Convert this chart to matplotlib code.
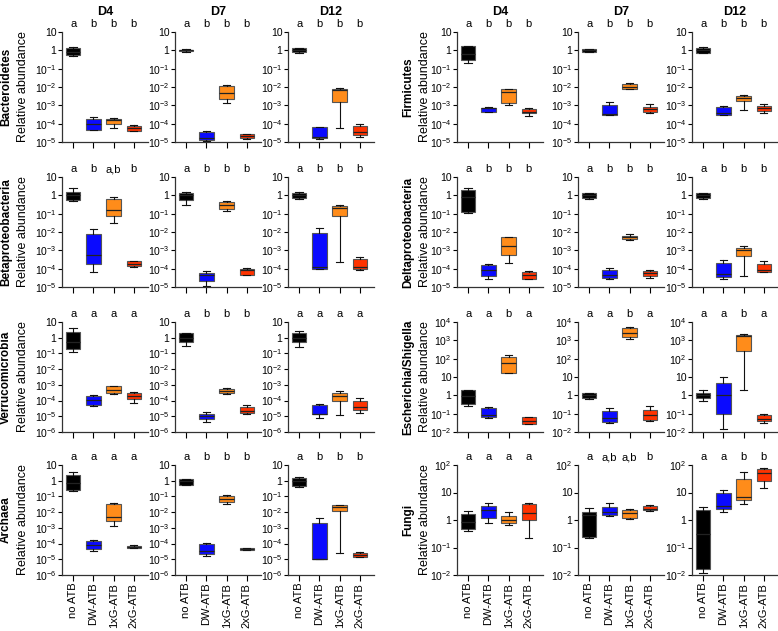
import matplotlib
matplotlib.use('Agg')
import matplotlib.pyplot as plt
from matplotlib.ticker import FixedLocator, NullLocator

plt.rcParams['font.family'] = ['Liberation Sans', 'DejaVu Sans']
plt.rcParams['mathtext.default'] = 'regular'

groups = ['no ATB', 'DW-ATB', '1xG-ATB', '2xG-ATB']
days = ['D4', 'D7', 'D12']
colors = ['#000000', '#0a0aff', '#ff8c1a', '#ff3300']

# box stats per group: (low whisker, Q1, median, Q3, high whisker); one list per day D4, D7, D12
bacteroidetes = [
    [(0.5, 0.55, 0.85, 1.4, 1.6), (4.5e-5, 4.8e-5, 9.5e-5, 1.9e-4, 2.2e-4),
     (6e-5, 9.5e-5, 1.6e-4, 1.9e-4, 2.0e-4), (4e-5, 4.2e-5, 5.5e-5, 7.5e-5, 8e-5)],
    [(0.85, 0.9, 1.0, 1.1, 1.15), (1.2e-5, 1.3e-5, 1.6e-5, 3.3e-5, 4e-5),
     (1.3e-3, 2.1e-3, 5e-3, 1.15e-2, 1.3e-2), (1.5e-5, 1.6e-5, 2.1e-5, 2.7e-5, 2.8e-5)],
    [(0.7, 0.78, 1.0, 1.3, 1.35), (1.5e-5, 1.7e-5, 1.9e-5, 6.8e-5, 7e-5),
     (5.5e-5, 1.6e-3, 7e-3, 7.6e-3, 8.5e-3), (1.8e-5, 2.3e-5, 3.3e-5, 7.5e-5, 1.0e-4)],
]
firmicutes = [
    [(0.21, 0.28, 0.65, 1.7, 1.75), (4.2e-4, 4.4e-4, 7e-4, 7.6e-4, 8e-4),
     (1.05e-3, 1.4e-3, 5.1e-3, 7.8e-3, 8e-3), (2.6e-4, 3.7e-4, 4.6e-4, 6e-4, 6.8e-4)],
    [(0.82, 0.85, 1.0, 1.2, 1.25), (3e-4, 3e-4, 3.3e-4, 1e-3, 1.5e-3),
     (7.5e-3, 7.8e-3, 1e-2, 1.4e-2, 1.65e-2), (3.9e-4, 4.3e-4, 6.3e-4, 8.6e-4, 1.2e-3)],
    [(0.68, 0.7, 1.0, 1.4, 1.45), (2.8e-4, 3e-4, 3.6e-4, 7.8e-4, 8.8e-4),
     (5.7e-4, 1.7e-3, 2.6e-3, 3.2e-3, 3.7e-3), (3.8e-4, 4.7e-4, 6.8e-4, 9e-4, 1.2e-3)],
]
betaproteobacteria = [
    [(0.47, 0.58, 1.1, 1.5, 2.5), (6.6e-5, 1.9e-4, 5.3e-4, 8e-3, 1.4e-2),
     (0.032, 0.074, 0.15, 0.66, 0.85), (1.3e-4, 1.35e-4, 1.9e-4, 2.5e-4, 2.6e-4)],
    [(0.31, 0.58, 1.0, 1.4, 1.45), (1.2e-5, 2.1e-5, 4.6e-5, 5.8e-5, 7.5e-5),
     (0.14, 0.19, 0.28, 0.43, 0.5), (4.4e-5, 4.6e-5, 8e-5, 1e-4, 1.05e-4)],
    [(0.6, 0.75, 1.0, 1.4, 1.5), (9.5e-5, 1e-4, 1.2e-4, 8.9e-3, 1.66e-2),
     (2.3e-4, 0.074, 0.2, 0.25, 0.28), (8e-5, 1e-4, 1.2e-4, 3.2e-4, 4.5e-4)],
]
deltaproteobacteria = [
    [(0.11, 0.12, 0.8, 1.9, 2.6), (2.6e-5, 3.8e-5, 8.6e-5, 1.6e-4, 1.7e-4),
     (2e-4, 5.5e-4, 1.7e-3, 5.2e-3, 5.3e-3), (2.8e-5, 2.9e-5, 4.5e-5, 6.5e-5, 7.5e-5)],
    [(0.6, 0.73, 1.0, 1.3, 1.35), (2.6e-5, 3.2e-5, 4.4e-5, 9e-5, 1.1e-4),
     (3.5e-3, 4.2e-3, 5.2e-3, 6.4e-3, 7.7e-3), (3.2e-5, 4e-5, 6e-5, 7.5e-5, 8.6e-5)],
    [(0.6, 0.75, 1.0, 1.35, 1.4), (2.8e-5, 3.5e-5, 5e-5, 2e-4, 3.1e-4),
     (4.2e-5, 4.7e-4, 1e-3, 1.35e-3, 1.7e-3), (6.3e-5, 6.7e-5, 8.6e-5, 1.8e-4, 2.6e-4)],
]
verrucomicrobia = [
    [(0.13, 0.19, 0.55, 2.2, 4.0), (4.4e-5, 5.4e-5, 1.1e-4, 2.1e-4, 2.3e-4),
     (2.8e-4, 3e-4, 5e-4, 8.1e-4, 9e-4), (7.2e-5, 1.3e-4, 2e-4, 3e-4, 3.3e-4)],
    [(0.29, 0.5, 1.0, 1.9, 2.0), (4.5e-6, 7e-6, 1e-5, 1.5e-5, 2e-5),
     (2.6e-4, 3e-4, 4e-4, 5.5e-4, 6.5e-4), (1.3e-5, 1.6e-5, 2.2e-5, 4e-5, 5e-5)],
    [(0.25, 0.5, 1.0, 2.0, 2.5), (8e-6, 1.3e-5, 1.5e-5, 5e-5, 6e-5),
     (1.2e-5, 1e-4, 2e-4, 3e-4, 4e-4), (1.6e-5, 2.5e-5, 4e-5, 1e-4, 1.5e-4)],
]
escherichia = [
    [(0.26, 0.32, 0.9, 1.9, 2.0), (0.055, 0.065, 0.09, 0.2, 0.23),
     (17, 17.5, 55, 118, 150), (0.028, 0.029, 0.04, 0.064, 0.065)],
    [(0.6, 0.7, 1.0, 1.3, 1.4), (0.03, 0.035, 0.06, 0.14, 0.2),
     (1250, 1500, 2500, 4700, 5600), (0.04, 0.045, 0.08, 0.16, 0.25)],
    [(0.5, 0.7, 1.0, 1.3, 2.0), (0.015, 0.1, 1.0, 5, 10),
     (2, 250, 1800, 2000, 2200), (0.03, 0.04, 0.05, 0.08, 0.1)],
]
archaea = [
    [(0.23, 0.27, 0.7, 2.4, 3.4), (3.6e-5, 4.6e-5, 8.5e-5, 1.55e-4, 1.8e-4),
     (1.35e-3, 2.6e-3, 4.9e-3, 3.4e-2, 3.8e-2), (5.5e-5, 5.6e-5, 6.5e-5, 7.5e-5, 7.6e-5)],
    [(0.55, 0.56, 0.9, 1.27, 1.3), (1.7e-5, 2.2e-5, 3.2e-5, 1e-4, 1.05e-4),
     (0.033, 0.044, 0.07, 0.11, 0.13), (3.8e-5, 3.9e-5, 4.5e-5, 5.2e-5, 5.3e-5)],
    [(0.42, 0.44, 0.9, 1.6, 1.8), (1e-5, 1.07e-5, 1.1e-5, 1.9e-3, 4e-3),
     (2.6e-5, 1.1e-2, 2e-2, 2.7e-2, 3e-2), (1.3e-5, 1.35e-5, 1.9e-5, 2.7e-5, 3e-5)],
]
fungi = [
    [(0.41, 0.48, 0.85, 1.7, 2.2), (0.8, 1.18, 2.26, 3.2, 4.2),
     (0.67, 0.78, 1.0, 1.4, 1.96), (0.22, 1.0, 1.85, 3.8, 4.0)],
    [(0.23, 0.25, 1.5, 2.0, 2.7), (1.4, 1.48, 1.9, 3.0, 4.2),
     (1.1, 1.18, 1.8, 2.25, 2.6), (2.1, 2.25, 2.5, 3.2, 3.4)],
    [(0.012, 0.016, 0.3, 2.4, 2.9), (2.0, 2.6, 3.2, 9.5, 12),
     (3.9, 5.2, 7, 32, 56), (14, 27, 50, 70, 78)],
]

# significance letters, per day
bacteroidetes_sig = [['a', 'b', 'b', 'b'], ['a', 'b', 'b', 'b'], ['a', 'b', 'b', 'b']]
firmicutes_sig = [['a', 'b', 'b', 'b'], ['a', 'b', 'b', 'b'], ['a', 'b', 'b', 'b']]
betaproteobacteria_sig = [['a', 'b', 'a,b', 'b'], ['a', 'b', 'b', 'b'], ['a', 'b', 'b', 'b']]
deltaproteobacteria_sig = [['a', 'b', 'b', 'b'], ['a', 'b', 'b', 'b'], ['a', 'b', 'b', 'b']]
verrucomicrobia_sig = [['a', 'a', 'a', 'a'], ['a', 'b', 'b', 'b'], ['a', 'a', 'a', 'a']]
escherichia_sig = [['a', 'a', 'b', 'a'], ['a', 'a', 'b', 'a'], ['a', 'a', 'b', 'a']]
archaea_sig = [['a', 'a', 'a', 'a'], ['a', 'b', 'b', 'b'], ['a', 'b', 'b', 'b']]
fungi_sig = [['a', 'a', 'a', 'a'], ['a', 'a,b', 'a,b', 'b'], ['a', 'a', 'b', 'b']]

left_taxa = [('Bacteroidetes', bacteroidetes, bacteroidetes_sig, (-5, 1)),
             ('Betaproteobacteria', betaproteobacteria, betaproteobacteria_sig, (-5, 1)),
             ('Verrucomicrobia', verrucomicrobia, verrucomicrobia_sig, (-6, 1)),
             ('Archaea', archaea, archaea_sig, (-6, 1))]
right_taxa = [('Firmicutes', firmicutes, firmicutes_sig, (-5, 1)),
              ('Deltaproteobacteria', deltaproteobacteria, deltaproteobacteria_sig, (-5, 1)),
              ('Escherichia/Shigella', escherichia, escherichia_sig, (-2, 4)),
              ('Fungi', fungi, fungi_sig, (-2, 2))]

FW, FH = 778, 631
W, H = 86, 110
row_tops = [32, 177, 322, 465]
left_cols = [62, 175, 288]
right_cols = [457, 578, 692]
name_x = {0: 6, 1: 408}
ylab_x = {0: 23, 1: 425}


def exp_label(e):
    if e == 0:
        return '1'
    if e == 1:
        return '10'
    return '10$^{%d}$' % e


fig = plt.figure(figsize=(FW / 100, FH / 100), dpi=100)

for side, (taxa, cols) in enumerate([(left_taxa, left_cols), (right_taxa, right_cols)]):
    for r, (name, panels, sigs, (lo, hi)) in enumerate(taxa):
        top = row_tops[r]
        for d in range(3):
            ax = fig.add_axes([cols[d] / FW, 1 - (top + H) / FH, W / FW, H / FH])
            stats = []
            for g, (wl, q1, med, q3, wh) in enumerate(panels[d]):
                stats.append({'whislo': wl, 'q1': q1, 'med': med, 'q3': q3, 'whishi': wh,
                              'label': groups[g]})
            bp = ax.bxp(stats, positions=[1, 2, 3, 4], widths=0.72, patch_artist=True,
                        showfliers=False,
                        boxprops=dict(edgecolor='#555555', linewidth=0.8),
                        medianprops=dict(color='#222222', linewidth=0.9),
                        whiskerprops=dict(color='#111111', linewidth=0.8),
                        capprops=dict(color='#111111', linewidth=0.8))
            for patch, c in zip(bp['boxes'], colors):
                patch.set_facecolor(c)
            ax.set_yscale('log')
            ax.set_ylim(10.0 ** lo, 10.0 ** hi)
            ax.set_xlim(0.45, 4.7)
            exps = list(range(lo, hi + 1))
            ax.yaxis.set_major_locator(FixedLocator([10.0 ** e for e in exps]))
            ax.yaxis.set_minor_locator(NullLocator())
            ax.set_yticklabels([exp_label(e) for e in exps])
            ax.tick_params(axis='y', labelsize=7.5, length=3, width=0.8, pad=1)
            ax.tick_params(axis='x', length=4, width=0.8, labelsize=8, pad=1.5)
            for s in ['top', 'right']:
                ax.spines[s].set_visible(False)
            for s in ['left', 'bottom']:
                ax.spines[s].set_linewidth(0.9)
                ax.spines[s].set_color('#333333')
            ax.set_xticks([1, 2, 3, 4])
            if r == 3:
                ax.set_xticklabels(groups, rotation=90)
            else:
                ax.set_xticklabels([])
            for g, letter in enumerate(sigs[d]):
                ax.text(g + 1, 10.0 ** (hi + (hi - lo) * 0.025), letter, ha='center',
                        va='bottom', fontsize=8)
            if r == 0:
                ax.text(0.5, 1 + 20 / H, days[d], transform=ax.transAxes, ha='center',
                        va='center', fontsize=9, fontweight='bold')
        cy = 1 - (top + H / 2) / FH
        fig.text(name_x[side] / FW, cy, name, rotation=90, ha='center', va='center',
                 fontsize=8.5, fontweight='bold')
        fig.text(ylab_x[side] / FW, cy, 'Relative abundance', rotation=90, ha='center',
                 va='center', fontsize=9)

fig.savefig('out.png', dpi=100)
